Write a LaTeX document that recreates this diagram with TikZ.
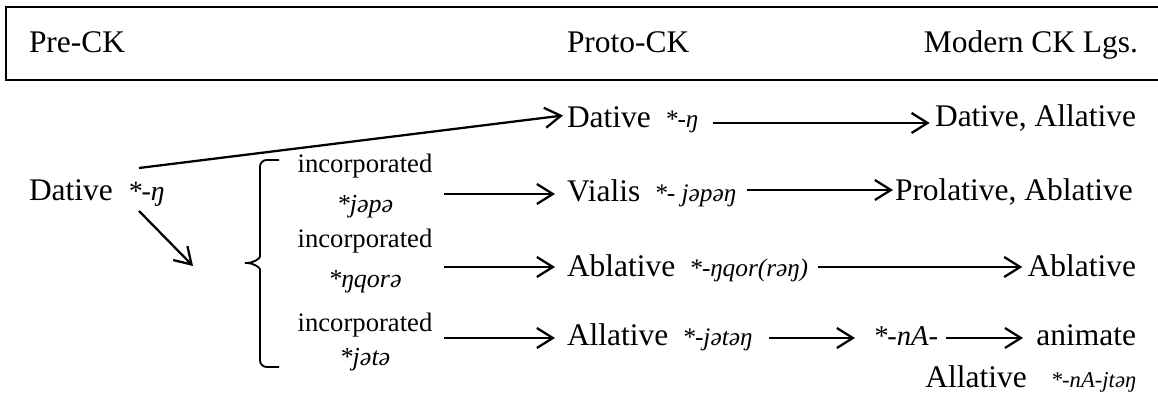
\documentclass[tikz,border=0pt]{standalone}
\usepackage{fontspec}
\setmainfont{Liberation Serif}
\usetikzlibrary{arrows.meta}
\newcommand{\phon}[2][19]{{\fontsize{#1}{#1}\selectfont\itshape #2}}

\begin{document}
\begin{tikzpicture}[
    x=0.75pt, y=-0.75pt,
    every node/.style={inner sep=0pt, outer sep=0pt},
    head/.style={font=\fontsize{23.6}{28}\selectfont, anchor=base west},
    lbl/.style={font=\fontsize{23.6}{28}\selectfont, anchor=base west},
    inc/.style={font=\fontsize{20}{30}\selectfont, align=center},
    farrow/.style={-{Straight Barb[length=12pt,width=15pt]}, line width=1.7pt},
    frame/.style={line width=1.8pt}
]
\useasboundingbox (0,0) rectangle (1158,402);

% --- header band ---
\draw[frame] (1158,7) -- (6,7) -- (6,80) -- (1158,80);
\node[head] (hpre)   at (29,53)  {Pre-CK};
\node[head] (hproto) at (567,53) {Proto-CK};
\node[head, anchor=base east] (hmod) at (1138,53) {Modern CK Lgs.};

% --- Pre-CK ---
\node[lbl] (pdat) at (29,201) {Dative\hspace{11pt}\phon[21]{*-ŋ}};

% --- bracket round the incorporated forms ---
\coordinate (brk) at (241,263);
\draw[line width=1.4pt, rounded corners=5] (279,160) -- (260,160) -- (260,250)
    .. controls (260,259) and (252,263) .. (brk)
    .. controls (252,263) and (260,267) .. (260,276) -- (260,367) -- (279,367);

\node[inc] (lab1) at (365,186) {incorporated\\\phon[19.5]{*jəpə}};
\node[inc] (lab2) at (365,261) {incorporated\\\phon[19.5]{*ŋqorə}};
\node[inc] (lab3) at (365,342) {incorporated\\[-5pt]\phon[19.5]{*jətə}};

% --- Proto-CK ---
\node[lbl] (p1) at (567,128) {Dative\hspace{10.5pt}\phon{*-ŋ}};
\node[lbl] (p2) at (567,202) {Vialis\hspace{10.5pt}\phon{*- jəpəŋ}};
\node[lbl] (p3) at (567,277) {Ablative\hspace{10.5pt}\phon{*-ŋqor(rəŋ)}};
\node[lbl] (p4) at (567,346) {Allative\hspace{10.5pt}\phon{*-jətəŋ}};

% --- Modern CK languages ---
\node[lbl, anchor=base east] (m1) at (1136,127) {Dative, Allative};
\node[lbl] (m2) at (895,201) {Prolative, Ablative};
\node[lbl, anchor=base east] (m3) at (1136,277) {Ablative};
\node[lbl] (mid) at (873,346) {\phon[21.5]{*-nA-}};
\node[lbl, anchor=base east] (m4) at (1136,346) {animate};
\node[lbl, anchor=base east] (m5) at (1136,388) {Allative\hspace{18pt}\phon[17]{*-nA-jtəŋ}};

% --- arrow levels ---
\coordinate (r1)  at ([yshift=3.75pt]p1.base east);
\coordinate (r2a) at ([yshift=6pt]p2.base west);
\coordinate (r2b) at ([yshift=9pt]p2.base east);
\coordinate (r3)  at ([yshift=7.5pt]p3.base west);
\coordinate (r4)  at ([yshift=6pt]p4.base west);
\coordinate (r4b) at ([yshift=6pt]mid.base east);

% --- arrows out of the Pre-CK dative ---
\draw[farrow, shorten >=3pt] ([shift={(110,-33)}]pdat.base west) -- ([yshift=9.75pt]p1.base west);
\draw[farrow] ([shift={(110,10)}]pdat.base west) -- ([shift={(-48,3)}]brk);

\draw[farrow, shorten <=9pt, shorten >=9pt] (lab1.east |- r2a) -- (r2a);
\draw[farrow, shorten <=9pt, shorten >=9pt] (lab2.east |- r3) -- (r3 -| p3.west);
\draw[farrow, shorten <=9pt, shorten >=9pt] (lab3.east |- r4) -- (r4);

% --- arrows into the modern languages ---
\draw[farrow, shorten <=11pt, shorten >=4pt] (r1) -- (r1 -| m1.west);
\draw[farrow, shorten <=8pt, shorten >=1.5pt] (r2b) -- (r2b -| m2.west);
\draw[farrow, shorten <=7.5pt, shorten >=4pt] (r3 -| p3.east) -- (r3 -| m3.west);
\draw[farrow, shorten <=12.75pt, shorten >=13.5pt] (r4 -| p4.east) -- (r4 -| mid.west);
\draw[farrow, shorten <=6pt, shorten >=10pt] (r4b) -- (r4b -| m4.west);

\end{tikzpicture}
\end{document}
